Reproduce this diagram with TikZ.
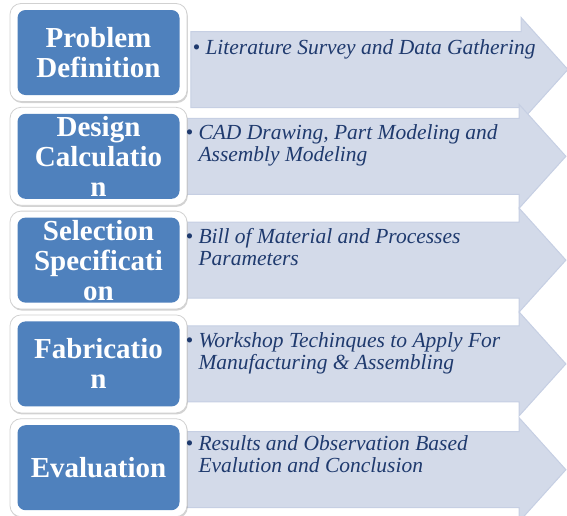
\documentclass[tikz,border=0pt]{standalone}
\usepackage{fontspec}
\setmainfont{Liberation Serif}
\usepackage{tikz}
\usetikzlibrary{positioning, shapes.arrows, shadows, backgrounds}

\definecolor{stageblue}{HTML}{4F81BD}
\definecolor{bandfill}{HTML}{D3DAE9}
\definecolor{bandedge}{HTML}{C6CFE3}
\definecolor{notenavy}{HTML}{1F3A6E}

% indent for the second line of a bullet point
\newcommand{\bulletgap}{\hphantom{\textbullet\ }}

\begin{document}
\begin{tikzpicture}[x=1pt, y=1pt,
      plate/.style={
          rectangle, rounded corners=11pt, fill=white, draw=black!18,
          line width=0.8pt, minimum width=177pt, minimum height=98pt,
          drop shadow={opacity=0.35, shadow xshift=0.8pt, shadow yshift=-1.5pt}
        },
      stage/.style={
          rectangle, rounded corners=8pt, fill=stageblue,
          minimum width=162pt, minimum height=85pt, inner sep=0pt,
          align=center, text=white,
          font=\fontsize{29}{30}\selectfont\bfseries
        },
      band/.style={
          single arrow, fill=bandfill, draw=bandedge, line width=1pt,
          minimum width=103pt, single arrow head extend=14pt,
          single arrow tip angle=96, inner xsep=0pt, inner ysep=37.5pt,
          anchor=tail
        },
      note/.style={
          anchor=base west, align=left, inner sep=0pt, text=notenavy,
          font=\fontsize{21.5}{22}\selectfont\itshape
        }
    ]

    \useasboundingbox (0,0) rectangle (567,-515);

    % ── White plates with the stage boxes (left column) ──
    \node[plate] (pl1) at (98.5,-52.5) {};
    \node[plate, below=5pt of pl1] (pl2) {};
    \node[plate, below=5pt of pl2] (pl3) {};
    \node[plate, below=5pt of pl3] (pl4) {};
    \node[plate, below=5pt of pl4] (pl5) {};

    \node[stage] (prob) at (pl1) {Problem\\Definition};
    \node[stage] (des)  at (pl2) {Design\\Calculatio\\n};
    \node[stage] (sel)  at (pl3) {Selection\\Specificati\\on};
    \node[stage] (fab)  at (pl4) {Fabricatio\\n};
    \node[stage] (eval) at (pl5) {Evaluation};

    % ── Arrow bands behind the plates ──
    \begin{scope}[on background layer]
      \node[band, minimum height=377pt] (b1) at ([xshift=3pt, yshift=-17pt]pl1.east) {};
      \node[band, minimum height=385pt] (b2) at ([xshift=-7pt]pl2.east) {};
      \node[band, minimum height=385pt] (b3) at ([xshift=-7pt]pl3.east) {};
      \node[band, minimum height=385pt] (b4) at ([xshift=-7pt]pl4.east) {};
      \node[band, minimum height=385pt] (b5) at ([xshift=-7pt, yshift=-2pt]pl5.east) {};
    \end{scope}

    % ── Bullet points on the bands (base = last line) ──
    \node[note] (n1) at ([xshift=2pt, yshift=15.5pt]b1.tail)
    {\textbullet\ Literature Survey and Data Gathering};
    \node[note] (n2) at ([xshift=5pt, yshift=-5.5pt]b2.tail)
    {\textbullet\ CAD Drawing, Part Modeling and\\\bulletgap Assembly Modeling};
    \node[note] (n3) at ([xshift=5pt, yshift=-5.5pt]b3.tail)
    {\textbullet\ Bill of Material and Processes\\\bulletgap Parameters};
    \node[note] (n4) at ([xshift=5pt, yshift=-5.5pt]b4.tail)
    {\textbullet\ Workshop Techinques to Apply For\\\bulletgap Manufacturing \& Assembling};
    \node[note] (n5) at ([xshift=5pt, yshift=-3pt]b5.tail)
    {\textbullet\ Results and Observation Based\\\bulletgap Evalution and Conclusion};

  \end{tikzpicture}
\end{document}
